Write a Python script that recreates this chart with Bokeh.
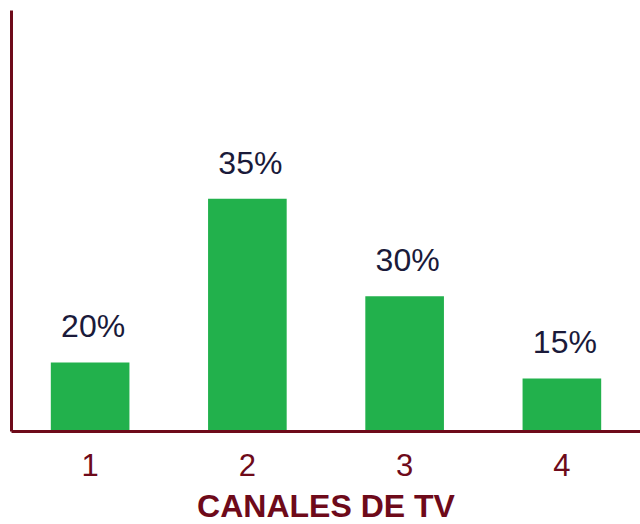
from bokeh.plotting import figure
from bokeh.models import FactorRange, Range1d, ColumnDataSource, FixedTicker
from bokeh.core.properties import value
from bokeh.embed import file_html
from bokeh.resources import INLINE

# data
channels = ["1", "2", "3", "4"]
percent_labels = ["20%", "35%", "30%", "15%"]
bar_heights = [16.4, 55.3, 32.1, 12.6]   # visual bar heights (% of plot height)
axis_title = "CANALES DE TV"

AXIS = "#6e0a1a"
GREEN = "#22b14c"
LABEL = "#1a1a3a"
FONT = "Liberation Sans"

src = ColumnDataSource(data=dict(x=channels, top=bar_heights, lab=percent_labels))

p = figure(x_range=FactorRange(factors=channels, range_padding=0),
           y_range=Range1d(0, 100),
           frame_width=629, frame_height=421,
           min_border_left=11, min_border_right=0, min_border_top=10, min_border_bottom=93,
           output_backend="svg", toolbar_location=None)

p.vbar(x="x", top="top", bottom=0, width=0.5, source=src,
       fill_color=GREEN, line_color=None)

p.text(x="x", y="top", text="lab", source=src,
       text_font=value(FONT), text_font_size="32px", text_color=LABEL,
       text_align="center", text_baseline="bottom", y_offset=-18, x_offset=3)

p.grid.visible = False
p.outline_line_color = None
p.background_fill_color = "white"
p.border_fill_color = "white"

for ax in (p.xaxis[0], p.yaxis[0]):
    ax.axis_line_color = AXIS
    ax.axis_line_width = 3
    ax.major_tick_line_color = None
    ax.minor_tick_line_color = None
    ax.major_tick_out = 0
    ax.major_tick_in = 0

p.yaxis.ticker = FixedTicker(ticks=[])
p.yaxis.major_label_standoff = 0

p.xaxis.major_label_text_font = FONT
p.xaxis.major_label_text_font_size = "31px"
p.xaxis.major_label_text_color = AXIS
p.xaxis.major_label_standoff = 22
p.xaxis.axis_label = axis_title
p.xaxis.axis_label_text_font = FONT
p.xaxis.axis_label_text_font_size = "32px"
p.xaxis.axis_label_text_font_style = "bold"
p.xaxis.axis_label_text_color = AXIS
p.xaxis.axis_label_standoff = 9

open("out.html", "w").write(file_html(p, INLINE))
